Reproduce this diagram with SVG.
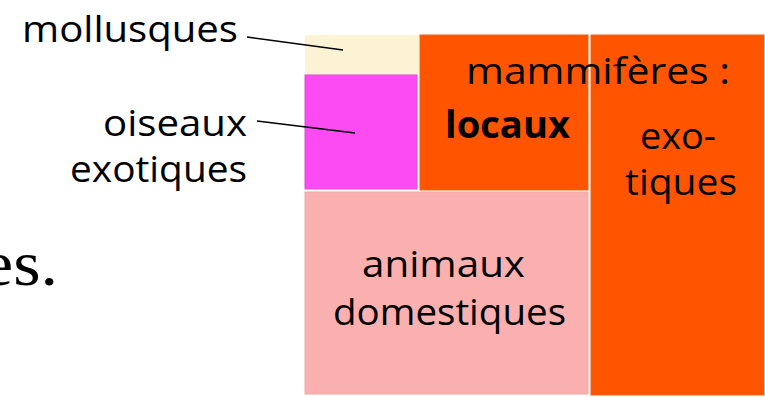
<svg xmlns="http://www.w3.org/2000/svg" width="765" height="397" viewBox="0 0 765 397">
<style>
.t{font-family:"Open Sans","Noto Sans","Liberation Sans",sans-serif;font-size:37px;fill:#000}
.b{font-weight:bold}
.conn{stroke:#000;stroke-width:1.6;fill:none}
</style>
<rect width="765" height="397" fill="#fff"/>
<text x="-18" y="285" font-family="'Liberation Serif',serif" font-size="64" textLength="76" lengthAdjust="spacingAndGlyphs">es.</text>
<g id="mollusques">
<rect x="305" y="35" width="114" height="40" fill="#FCF3D5"/>
<text class="t" x="22" y="42" textLength="216" lengthAdjust="spacingAndGlyphs">mollusques</text>
</g>
<g id="oiseaux-exotiques">
<rect x="305" y="75" width="112" height="114" fill="#FC4BF2" stroke="#D94FD2" stroke-width="1"/>
<text class="t" x="103" y="136" textLength="144" lengthAdjust="spacingAndGlyphs">oiseaux</text>
<text class="t" x="70" y="182" textLength="177" lengthAdjust="spacingAndGlyphs">exotiques</text>
</g>
<g id="mammiferes-locaux">
<rect x="420" y="35" width="168" height="155" fill="#FF5500" stroke="#E8641E" stroke-width="1"/>
<text class="t b" x="445" y="138" textLength="125" lengthAdjust="spacingAndGlyphs">locaux</text>
</g>
<g id="mammiferes-exotiques">
<rect x="591" y="35" width="173" height="360" fill="#FF5500" stroke="#E8641E" stroke-width="1"/>
<text class="t" x="640" y="149" textLength="76" lengthAdjust="spacingAndGlyphs">exo-</text>
<text class="t" x="625" y="195" textLength="112" lengthAdjust="spacingAndGlyphs">tiques</text>
</g>
<g id="animaux-domestiques">
<rect x="305" y="192" width="283" height="202" fill="#FBB0B0" stroke="#EBA9A9" stroke-width="1"/>
<text class="t" x="362" y="277" textLength="163" lengthAdjust="spacingAndGlyphs">animaux</text>
<text class="t" x="333" y="325" textLength="233" lengthAdjust="spacingAndGlyphs">domestiques</text>
</g>
<g id="mammiferes-title">
<text class="t" x="466" y="84" textLength="264" lengthAdjust="spacingAndGlyphs">mammifères :</text>
</g>
<g id="connectors">
<line class="conn" x1="247" y1="37" x2="343" y2="50"/>
<line class="conn" x1="257" y1="121" x2="355" y2="133"/>
</g>
</svg>
